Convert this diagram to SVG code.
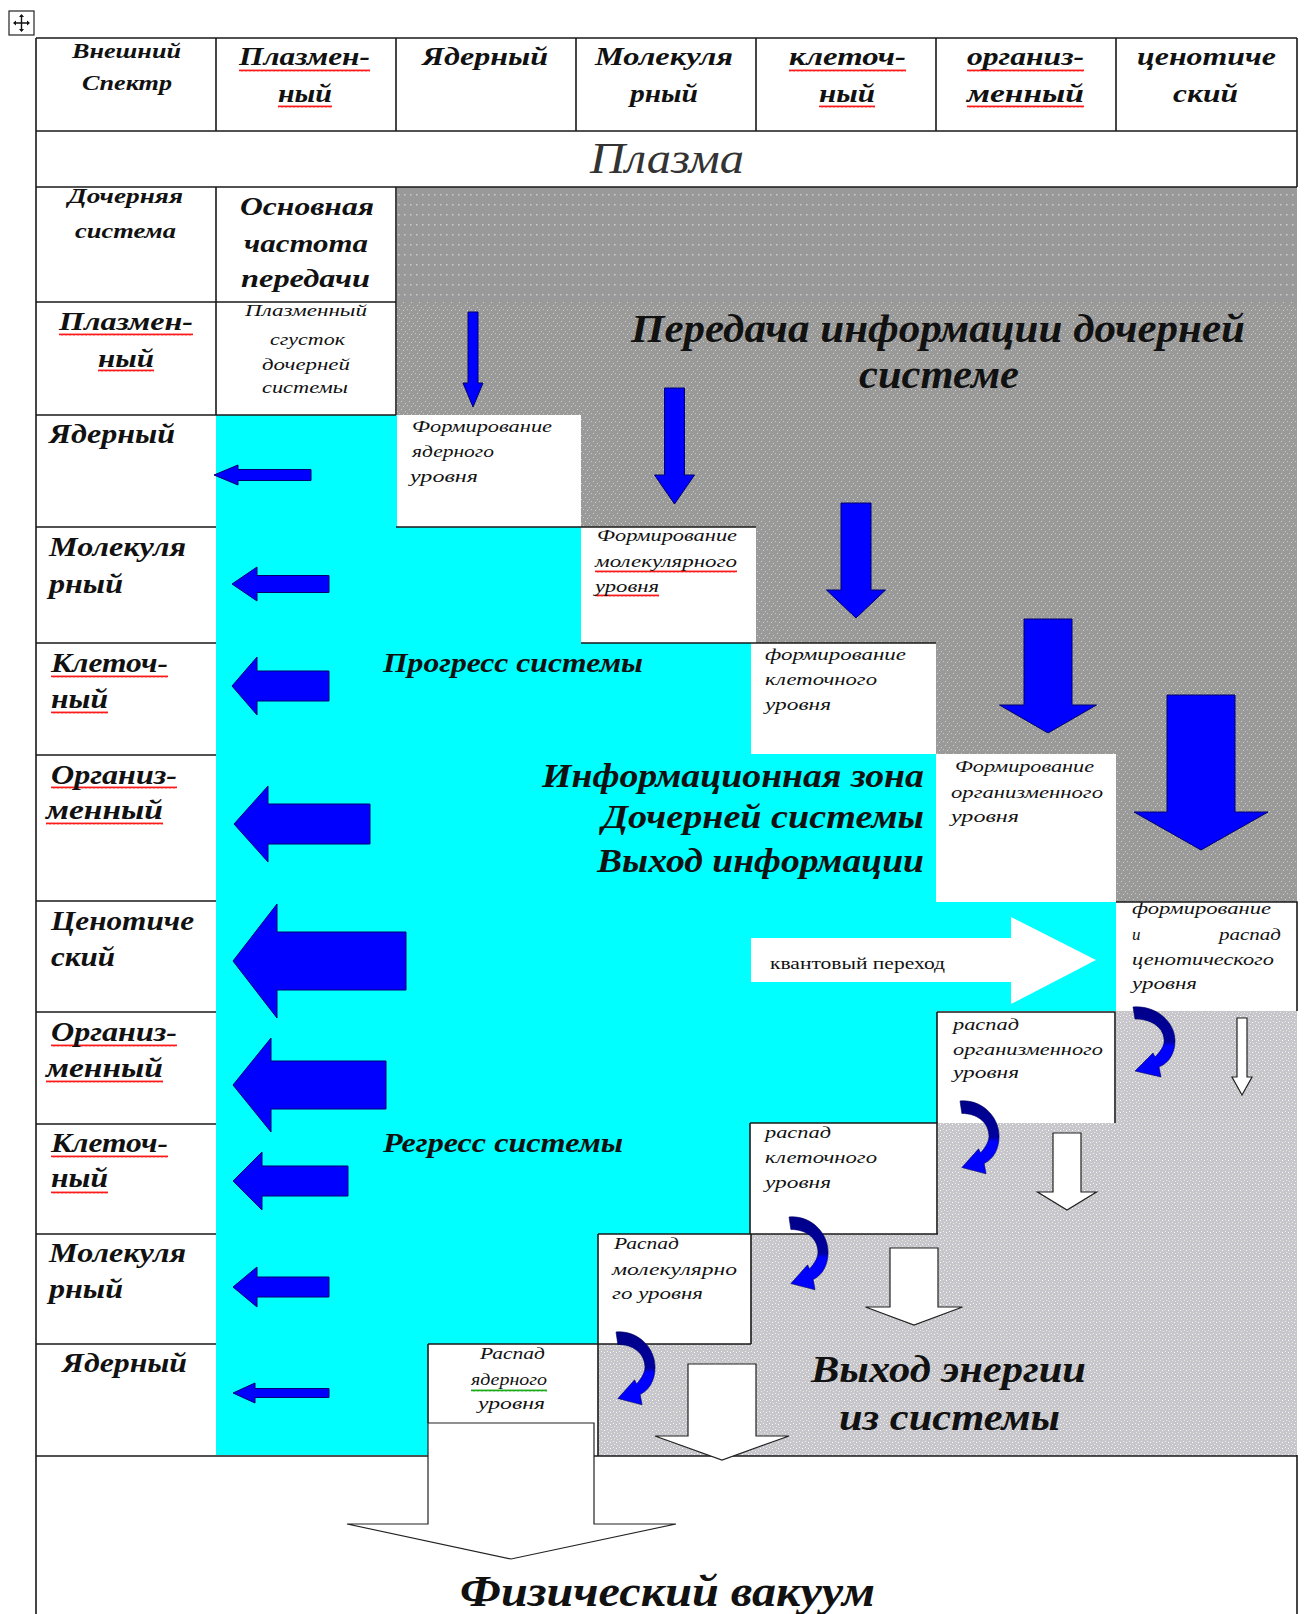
<svg xmlns="http://www.w3.org/2000/svg" width="1312" height="1614" viewBox="0 0 1312 1614">
<style>
.ln{stroke:#1a1a1a;stroke-width:1.6;fill:none}
.lb{font-family:"Liberation Serif",serif;font-weight:bold;font-style:italic;fill:#111}
.sm{font-family:"Liberation Serif",serif;font-style:italic;font-size:17px;fill:#111}
.blue{fill:#0000ff;stroke:#000070;stroke-width:1}
.warr{fill:#fff;stroke:#222;stroke-width:1.2}
.box{fill:#fff}
</style>
<defs>
<pattern id="gGrid" width="6" height="10" patternUnits="userSpaceOnUse"><rect width="6" height="10" fill="#999999"/><rect x="2" y="4" width="1.5" height="1.5" fill="#cdcdcd"/></pattern>
<pattern id="gSpeck" width="8" height="8" patternUnits="userSpaceOnUse"><rect width="8" height="8" fill="#9a9a9a"/><rect x="1" y="1" width="1" height="1" fill="#d6d6b0"/><rect x="5" y="3" width="1" height="1" fill="#cfcfcf"/><rect x="3" y="6" width="1" height="1" fill="#d6d6b0"/><rect x="7" y="5" width="1" height="1" fill="#c8c8c8"/></pattern>
<pattern id="gLight" width="6" height="6" patternUnits="userSpaceOnUse"><rect width="6" height="6" fill="#c6c6cc"/><rect x="1" y="1" width="1" height="1" fill="#f4f4dc"/><rect x="4" y="2" width="1" height="1" fill="#ffffff"/><rect x="2" y="4" width="1" height="1" fill="#f0f0d0"/><rect x="5" y="5" width="1" height="1" fill="#e8e8e8"/></pattern>
<pattern id="wavR" width="4" height="3" patternUnits="userSpaceOnUse"><path d="M0,2.5 L1,0.5 L2,2.5 L3,0.5 L4,2.5" stroke="#ff0000" stroke-width="0.9" fill="none"/></pattern>
<pattern id="wavG" width="4" height="3" patternUnits="userSpaceOnUse"><path d="M0,2.5 L1,0.5 L2,2.5 L3,0.5 L4,2.5" stroke="#00a000" stroke-width="0.9" fill="none"/></pattern>
<linearGradient id="cg" x1="0" y1="0" x2="0" y2="1"><stop offset="0" stop-color="#000088"/><stop offset="0.5" stop-color="#0000a0"/><stop offset="0.56" stop-color="#0000ff"/><stop offset="1" stop-color="#0000ff"/></linearGradient>
<path id="curv" d="M0,0 C22,-2 42,14 42,34 C42,46 36,56 26,60 L28,70 L2,64 L20,46 L22,50 C28,44 32,38 31,32 C30,20 18,12 2,12 Z" fill="url(#cg)" stroke="#000060" stroke-width="0.6"/>
</defs>
<rect width="1312" height="1614" fill="#fff"/>

<g id="move-handle"><rect x="9" y="11" width="25" height="24" fill="#fff" stroke="#222" stroke-width="1.2"/><path d="M21.5,15 V31 M14,23 H29" stroke="#111" stroke-width="1.4"/><path d="M21.5,14 l-2.5,3 h5z M21.5,32 l-2.5,-3 h5z M13,23 l3,-2.5 v5z M30,23 l-3,-2.5 v5z" fill="#111"/></g>

<g id="zones">
<polygon points="397,187 1297,187 1297,902 1116,902 1116,754 936,754 936,643 756,643 756,527 581,527 581,415 397,415" fill="url(#gSpeck)"/>
<rect x="397" y="187" width="900" height="115" fill="url(#gGrid)"/>
<polygon points="216,415 397,415 397,527 581,527 581,643 751,643 751,754 936,754 936,902 1116,902 1116,1011 937,1011 937,1123 750,1123 750,1234 598,1234 598,1344 428,1344 428,1455 216,1455" fill="#00ffff"/>
<polygon points="1116,1011 1297,1011 1297,1456 598,1456 598,1344 751,1344 751,1234 937,1234 937,1123 1116,1123" fill="url(#gLight)"/>
</g>

<g id="boxes">
<rect id="box-form-nuc" class="box" x="397" y="415" width="184" height="112"/>
<rect id="box-form-mol" class="box" x="581" y="527" width="175" height="116"/>
<rect id="box-form-cell" class="box" x="751" y="643" width="185" height="111"/>
<rect id="box-form-org" class="box" x="936" y="754" width="180" height="148"/>
<rect id="box-form-cen" class="box" x="1116" y="902" width="181" height="109"/>
<rect id="box-dec-org" class="box" x="937" y="1012" width="178" height="111"/>
<rect id="box-dec-cell" class="box" x="750" y="1123" width="188" height="111"/>
<rect id="box-dec-mol" class="box" x="598" y="1234" width="153" height="110"/>
<rect id="box-dec-nuc" class="box" x="428" y="1344" width="170" height="79"/>
</g>

<g id="grid-lines" class="ln">
<path d="M36,38 H1297 M36,131 H1297 M36,187 H1297 M36,38 V1614 M1297,38 V187 M1297,1455 V1614"/>
<path d="M216,38 V131 M396,38 V131 M576,38 V131 M756,38 V131 M936,38 V131 M1116,38 V131"/>
<path d="M216,187 V415 M396,187 V415 M36,302 H396 M36,415 H396"/>
<path d="M36,527 H216 M36,643 H216 M36,755 H216 M36,901 H216 M36,1012 H216 M36,1124 H216 M36,1234 H216 M36,1344 H216"/>
<path d="M396,527 H756 M581,643 H936"/>
<path d="M1116,902 H1297 V1011"/>
<path d="M937,1012 H1115 V1123 M937,1012 V1123"/>
<path d="M750,1123 H937 V1234 M750,1123 V1234 M598,1234 H938"/>
<path d="M598,1234 V1456 M751,1234 V1344 M428,1344 H751 M428,1344 V1423"/>
<path d="M36,1456 H428 M594,1456 H1297"/>
</g>

<g id="connectors">
<g id="left-arrows" class="blue">
<polygon points="214,475 238,465 238,469.5 311,469.5 311,480.5 238,480.5 238,485"/>
<polygon points="232,584 257,567 257,575.5 329,575.5 329,592.5 257,592.5 257,601"/>
<polygon points="232,686 257,657 257,671 329,671 329,701 257,701 257,715"/>
<polygon points="234,824 268,786 268,804 370,804 370,844 268,844 268,862"/>
<polygon points="233,961 277,904 277,932 406,932 406,990 277,990 277,1018"/>
<polygon points="233,1085 271,1038 271,1061 386,1061 386,1109 271,1109 271,1132"/>
<polygon points="233,1181 262,1152 262,1166 348,1166 348,1196 262,1196 262,1210"/>
<polygon points="233,1287 257,1267 257,1277 329,1277 329,1297 257,1297 257,1307"/>
<polygon points="233,1393 255,1383 255,1388.5 329,1388.5 329,1397.5 255,1397.5 255,1403"/>
</g>
<g id="down-arrows" class="blue">
<polygon points="468,312 478,312 478,383 483,383 473,407 463,383 468,383"/>
<polygon points="664.5,388 684.5,388 684.5,475 694.5,475 674.5,504 654.5,475 664.5,475"/>
<polygon points="841,503 871,503 871,590 885.5,590 856,618 826.5,590 841,590"/>
<polygon points="1024,619 1072,619 1072,705 1096.5,705 1048,733 999.5,705 1024,705"/>
<polygon points="1167,695 1235,695 1235,812 1268,812 1201,850 1134,812 1167,812"/>
</g>
<g id="quantum-arrow"><polygon points="751,938 1011,938 1011,917 1096,960 1011,1004 1011,982 751,982" fill="#fff"/></g>
<g id="curved-arrows">
<use href="#curv" transform="translate(1133,1007)"/>
<use href="#curv" transform="translate(960,1101) scale(0.93,1.04)"/>
<use href="#curv" transform="translate(789,1217) scale(0.93,1.04)"/>
<use href="#curv" transform="translate(616,1332) scale(0.93,1.04)"/>
</g>
<g id="energy-arrows" class="warr">
<polygon points="1237,1018 1247,1018 1247,1077 1252,1077 1242,1095 1232,1077 1237,1077"/>
<polygon points="1053,1133 1081,1133 1081,1192 1096.5,1192 1067,1210 1037.5,1192 1053,1192"/>
<polygon points="890,1248 938,1248 938,1307 962.5,1307 914,1325 865.5,1307 890,1307"/>
<polygon points="688,1364 756,1364 756,1436 789,1436 722,1460 655,1436 688,1436"/>
<polygon points="428,1423 594,1423 594,1524 676,1524 511,1559 347,1524 428,1524"/>
</g>
</g>

<g id="spell-marks">
<rect x="239" y="69" width="131" height="3" fill="url(#wavR)"/>
<rect x="278" y="105" width="54" height="3" fill="url(#wavR)"/>
<rect x="789" y="69" width="117" height="3" fill="url(#wavR)"/>
<rect x="819" y="105" width="56" height="3" fill="url(#wavR)"/>
<rect x="967" y="69" width="117" height="3" fill="url(#wavR)"/>
<rect x="967" y="105" width="117" height="3" fill="url(#wavR)"/>
<rect x="59" y="333" width="134" height="3" fill="url(#wavR)"/>
<rect x="98" y="369" width="56" height="3" fill="url(#wavR)"/>
<rect x="51" y="675" width="117" height="3" fill="url(#wavR)"/>
<rect x="51" y="711" width="57" height="3" fill="url(#wavR)"/>
<rect x="51" y="786" width="126" height="3" fill="url(#wavR)"/>
<rect x="46" y="822" width="117" height="3" fill="url(#wavR)"/>
<rect x="51" y="1044" width="126" height="3" fill="url(#wavR)"/>
<rect x="46" y="1080" width="117" height="3" fill="url(#wavR)"/>
<rect x="51" y="1155" width="117" height="3" fill="url(#wavR)"/>
<rect x="51" y="1191" width="57" height="3" fill="url(#wavR)"/>
<rect x="595" y="570" width="142" height="3" fill="url(#wavR)"/>
<rect x="595" y="594" width="64" height="3" fill="url(#wavR)"/>
<rect x="471" y="1389" width="76" height="3" fill="url(#wavG)"/>
</g>

<g id="header">
<text class="lb" font-size="20" x="72" y="58" textLength="109" lengthAdjust="spacingAndGlyphs">Внешний</text>
<text class="lb" font-size="20" x="82" y="90" textLength="90" lengthAdjust="spacingAndGlyphs">Спектр</text>
<text class="lb" font-size="25" x="239" y="65" textLength="131" lengthAdjust="spacingAndGlyphs">Плазмен-</text>
<text class="lb" font-size="25" x="278" y="102" textLength="54" lengthAdjust="spacingAndGlyphs">ный</text>
<text class="lb" font-size="25" x="422" y="65" textLength="126" lengthAdjust="spacingAndGlyphs">Ядерный</text>
<text class="lb" font-size="25" x="595" y="65" textLength="138" lengthAdjust="spacingAndGlyphs">Молекуля</text>
<text class="lb" font-size="25" x="630" y="102" textLength="68" lengthAdjust="spacingAndGlyphs">рный</text>
<text class="lb" font-size="25" x="789" y="65" textLength="117" lengthAdjust="spacingAndGlyphs">клеточ-</text>
<text class="lb" font-size="25" x="819" y="102" textLength="56" lengthAdjust="spacingAndGlyphs">ный</text>
<text class="lb" font-size="25" x="967" y="65" textLength="117" lengthAdjust="spacingAndGlyphs">организ-</text>
<text class="lb" font-size="25" x="967" y="102" textLength="117" lengthAdjust="spacingAndGlyphs">менный</text>
<text class="lb" font-size="25" x="1137" y="65" textLength="139" lengthAdjust="spacingAndGlyphs">ценотиче</text>
<text class="lb" font-size="25" x="1173" y="102" textLength="65" lengthAdjust="spacingAndGlyphs">ский</text>
<text font-family="Liberation Serif, serif" font-style="italic" font-size="44" fill="#333" x="590" y="173" textLength="154" lengthAdjust="spacingAndGlyphs">Плазма</text>
</g>

<g id="row-daughter">
<text class="lb" font-size="20" x="68" y="203" textLength="115" lengthAdjust="spacingAndGlyphs">Дочерняя</text>
<text class="lb" font-size="20" x="75" y="238" textLength="101" lengthAdjust="spacingAndGlyphs">система</text>
<text class="lb" font-size="26" x="240" y="215" textLength="134" lengthAdjust="spacingAndGlyphs">Основная</text>
<text class="lb" font-size="26" x="244" y="252" textLength="124" lengthAdjust="spacingAndGlyphs">частота</text>
<text class="lb" font-size="26" x="241" y="287" textLength="129" lengthAdjust="spacingAndGlyphs">передачи</text>
</g>
<g id="row-plasma">
<text class="lb" font-size="26" x="59" y="330" textLength="134" lengthAdjust="spacingAndGlyphs">Плазмен-</text>
<text class="lb" font-size="26" x="98" y="367" textLength="56" lengthAdjust="spacingAndGlyphs">ный</text>
<text class="sm" x="245" y="316" textLength="122" lengthAdjust="spacingAndGlyphs">Плазменный</text>
<text class="sm" x="270" y="345" textLength="75" lengthAdjust="spacingAndGlyphs">сгусток</text>
<text class="sm" x="262" y="370" textLength="88" lengthAdjust="spacingAndGlyphs">дочерней</text>
<text class="sm" x="262" y="393" textLength="86" lengthAdjust="spacingAndGlyphs">системы</text>
</g>
<g id="row-labels">
<text class="lb" font-size="27" x="49" y="443" textLength="126" lengthAdjust="spacingAndGlyphs">Ядерный</text>
<text class="lb" font-size="27" x="49" y="556" textLength="137" lengthAdjust="spacingAndGlyphs">Молекуля</text>
<text class="lb" font-size="27" x="49" y="593" textLength="74" lengthAdjust="spacingAndGlyphs">рный</text>
<text class="lb" font-size="27" x="51" y="672" textLength="117" lengthAdjust="spacingAndGlyphs">Клеточ-</text>
<text class="lb" font-size="27" x="51" y="708" textLength="57" lengthAdjust="spacingAndGlyphs">ный</text>
<text class="lb" font-size="27" x="51" y="784" textLength="126" lengthAdjust="spacingAndGlyphs">Организ-</text>
<text class="lb" font-size="27" x="46" y="819" textLength="117" lengthAdjust="spacingAndGlyphs">менный</text>
<text class="lb" font-size="27" x="51" y="930" textLength="143" lengthAdjust="spacingAndGlyphs">Ценотиче</text>
<text class="lb" font-size="27" x="51" y="966" textLength="64" lengthAdjust="spacingAndGlyphs">ский</text>
<text class="lb" font-size="27" x="51" y="1041" textLength="126" lengthAdjust="spacingAndGlyphs">Организ-</text>
<text class="lb" font-size="27" x="46" y="1077" textLength="117" lengthAdjust="spacingAndGlyphs">менный</text>
<text class="lb" font-size="27" x="51" y="1152" textLength="117" lengthAdjust="spacingAndGlyphs">Клеточ-</text>
<text class="lb" font-size="27" x="51" y="1187" textLength="57" lengthAdjust="spacingAndGlyphs">ный</text>
<text class="lb" font-size="27" x="49" y="1262" textLength="137" lengthAdjust="spacingAndGlyphs">Молекуля</text>
<text class="lb" font-size="27" x="49" y="1298" textLength="74" lengthAdjust="spacingAndGlyphs">рный</text>
<text class="lb" font-size="27" x="62" y="1372" textLength="125" lengthAdjust="spacingAndGlyphs">Ядерный</text>
</g>

<g id="box-texts">
<text class="sm" x="412" y="432" textLength="140" lengthAdjust="spacingAndGlyphs">Формирование</text>
<text class="sm" x="412" y="457" textLength="82" lengthAdjust="spacingAndGlyphs">ядерного</text>
<text class="sm" x="410" y="482" textLength="68" lengthAdjust="spacingAndGlyphs">уровня</text>
<text class="sm" x="597" y="541" textLength="140" lengthAdjust="spacingAndGlyphs">Формирование</text>
<text class="sm" x="595" y="567" textLength="142" lengthAdjust="spacingAndGlyphs">молекулярного</text>
<text class="sm" x="595" y="592" textLength="64" lengthAdjust="spacingAndGlyphs">уровня</text>
<text class="sm" x="765" y="660" textLength="141" lengthAdjust="spacingAndGlyphs">формирование</text>
<text class="sm" x="765" y="685" textLength="112" lengthAdjust="spacingAndGlyphs">клеточного</text>
<text class="sm" x="765" y="710" textLength="66" lengthAdjust="spacingAndGlyphs">уровня</text>
<text class="sm" x="955" y="772" textLength="139" lengthAdjust="spacingAndGlyphs">Формирование</text>
<text class="sm" x="951" y="798" textLength="152" lengthAdjust="spacingAndGlyphs">организменного</text>
<text class="sm" x="951" y="822" textLength="68" lengthAdjust="spacingAndGlyphs">уровня</text>
<text class="sm" x="1132" y="914" textLength="139" lengthAdjust="spacingAndGlyphs">формирование</text>
<text class="sm" x="1132" y="940">и</text>
<text class="sm" x="1219" y="940" textLength="62" lengthAdjust="spacingAndGlyphs">распад</text>
<text class="sm" x="1132" y="965" textLength="142" lengthAdjust="spacingAndGlyphs">ценотического</text>
<text class="sm" x="1132" y="989" textLength="65" lengthAdjust="spacingAndGlyphs">уровня</text>
<text class="sm" x="953" y="1030" textLength="66" lengthAdjust="spacingAndGlyphs">распад</text>
<text class="sm" x="953" y="1055" textLength="150" lengthAdjust="spacingAndGlyphs">организменного</text>
<text class="sm" x="953" y="1078" textLength="66" lengthAdjust="spacingAndGlyphs">уровня</text>
<text class="sm" x="765" y="1138" textLength="66" lengthAdjust="spacingAndGlyphs">распад</text>
<text class="sm" x="765" y="1163" textLength="112" lengthAdjust="spacingAndGlyphs">клеточного</text>
<text class="sm" x="765" y="1188" textLength="66" lengthAdjust="spacingAndGlyphs">уровня</text>
<text class="sm" x="614" y="1249" textLength="65" lengthAdjust="spacingAndGlyphs">Распад</text>
<text class="sm" x="612" y="1275" textLength="125" lengthAdjust="spacingAndGlyphs">молекулярно</text>
<text class="sm" x="612" y="1299" textLength="91" lengthAdjust="spacingAndGlyphs">го уровня</text>
<text class="sm" x="480" y="1359" textLength="65" lengthAdjust="spacingAndGlyphs">Распад</text>
<text class="sm" x="471" y="1385" textLength="76" lengthAdjust="spacingAndGlyphs">ядерного</text>
<text class="sm" x="478" y="1409" textLength="67" lengthAdjust="spacingAndGlyphs">уровня</text>
</g>

<g id="zone-titles">
<text class="lb" font-size="40" x="631" y="342" textLength="614" lengthAdjust="spacingAndGlyphs">Передача информации дочерней</text>
<text class="lb" font-size="40" x="859" y="388" textLength="160" lengthAdjust="spacingAndGlyphs">системе</text>
<text class="lb" font-size="27" x="383" y="672" textLength="260" lengthAdjust="spacingAndGlyphs">Прогресс системы</text>
<text class="lb" font-size="34" x="542" y="787" textLength="382" lengthAdjust="spacingAndGlyphs">Информационная зона</text>
<text class="lb" font-size="34" x="602" y="828" textLength="322" lengthAdjust="spacingAndGlyphs">Дочерней системы</text>
<text class="lb" font-size="34" x="597" y="872" textLength="327" lengthAdjust="spacingAndGlyphs">Выход информации</text>
<text font-family="Liberation Serif, serif" font-size="16" fill="#111" x="770" y="969" textLength="175" lengthAdjust="spacingAndGlyphs">квантовый переход</text>
<text class="lb" font-size="27" x="383" y="1152" textLength="240" lengthAdjust="spacingAndGlyphs">Регресс системы</text>
<text class="lb" font-size="38" x="811" y="1382" textLength="275" lengthAdjust="spacingAndGlyphs">Выход энергии</text>
<text class="lb" font-size="38" x="839" y="1430" textLength="221" lengthAdjust="spacingAndGlyphs">из системы</text>
<text class="lb" font-size="44" x="460" y="1606" textLength="415" lengthAdjust="spacingAndGlyphs">Физический вакуум</text>
</g>
</svg>
